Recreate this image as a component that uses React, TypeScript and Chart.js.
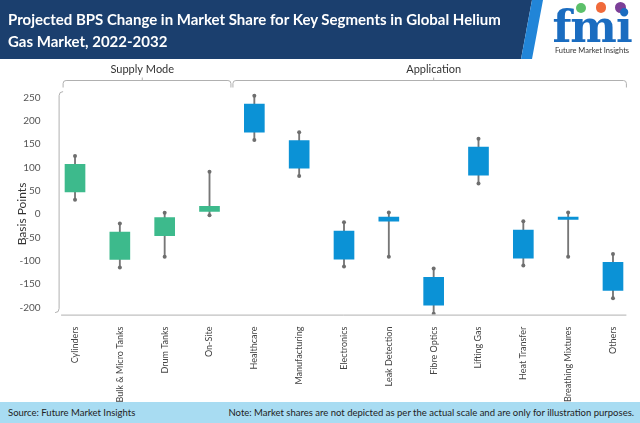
import React, { useEffect, useRef } from "react";
import { Chart, registerables } from "chart.js";

Chart.register(...registerables);

const categories = [
  "Cylinders",
  "Bulk & Micro Tanks",
  "Drum Tanks",
  "On-Site",
  "Healthcare",
  "Manufacturing",
  "Electronics",
  "Leak Detection",
  "Fibre Optics",
  "Lifting Gas",
  "Heat Transfer",
  "Breathing Mixtures",
  "Others",
];
const whiskerMax = [125, -20, 3, 91, 254, 176, -17, 4, -116, 162, -15, 4, -85];
const boxHigh = [107, -38, -7, 17, 236, 158, -36, -6, -135, 144, -34, -6, -103];
const boxLow = [48, -97, -46, 6, 176, 99, -96, -15, -195, 84, -94, -11, -163];
const whiskerMin = [31, -114, -91, -2, 159, 82, -112, -91, -213, 66, -110, -91, -180];

const groupNames = ["Supply Mode", "Application"];
const groupStart = [0, 4];
const groupEnd = [3, 12];
const groupColors = ["#3dba8c", "#0b92d6"];

const yTicks = [-200, -150, -100, -50, 0, 50, 100, 150, 200, 250];
const yMin = -215;
const yMax = 265;
const yTitle = "Basis Points";

const FONT = "Lato, 'Open Sans', sans-serif";

const decorPlugin = {
  id: "decor",
  afterDraw(chart: any) {
    const ctx = chart.ctx;
    const xs = chart.scales.x;
    const area = chart.chartArea;
    const band = area.width / categories.length;
    const axisX = area.left + 6.5;
    ctx.save();
    ctx.strokeStyle = "#b0b0b0";
    ctx.lineWidth = 1;
    ctx.beginPath();
    ctx.moveTo(axisX + 4, area.top + 1);
    ctx.quadraticCurveTo(axisX, area.top + 1, axisX, area.top + 5);
    ctx.lineTo(axisX, area.bottom - 6);
    ctx.quadraticCurveTo(axisX, area.bottom - 2, axisX - 4, area.bottom - 2);
    ctx.stroke();
    ctx.beginPath();
    ctx.moveTo(axisX + 2, area.bottom + 0.5);
    ctx.lineTo(area.right - 9, area.bottom + 0.5);
    ctx.stroke();

    const by = 80.5;
    groupNames.forEach((name, g) => {
      let x0 = xs.getPixelForValue(groupStart[g]) - band / 2 + 1;
      let x1 = xs.getPixelForValue(groupEnd[g]) + band / 2 - 1;
      if (g === 0) x0 = Math.max(x0, axisX + 4);
      if (g === groupNames.length - 1) x1 = Math.min(x1, area.right - 9);
      const cx = (xs.getPixelForValue(groupStart[g]) + xs.getPixelForValue(groupEnd[g])) / 2;
      ctx.strokeStyle = "#b0b0b0";
      ctx.beginPath();
      ctx.moveTo(x0, by + 7);
      ctx.lineTo(x0, by + 3);
      ctx.quadraticCurveTo(x0, by, x0 + 3, by);
      ctx.lineTo(x1 - 3, by);
      ctx.quadraticCurveTo(x1, by, x1, by + 3);
      ctx.lineTo(x1, by + 7);
      ctx.moveTo(cx, by);
      ctx.lineTo(cx, by - 3);
      ctx.stroke();
      ctx.fillStyle = "#333";
      ctx.font = "11px " + FONT;
      ctx.textAlign = "center";
      ctx.textBaseline = "middle";
      ctx.fillText(name, cx, 69);
    });

    ctx.save();
    ctx.translate(22, 214);
    ctx.rotate(-Math.PI / 2);
    ctx.fillStyle = "#333";
    ctx.font = "12px " + FONT;
    ctx.textAlign = "center";
    ctx.textBaseline = "middle";
    ctx.fillText(yTitle, 0, 0);
    ctx.restore();
    ctx.restore();
  },
};

function colorFor(i: number) {
  for (let g = 0; g < groupNames.length; g++) {
    if (i >= groupStart[g] && i <= groupEnd[g]) return groupColors[g];
  }
  return groupColors[0];
}

export default function App() {
  const ref = useRef<HTMLCanvasElement>(null);

  useEffect(() => {
    if (!ref.current) return;
    const boxColors = categories.map((_, i) => colorFor(i));
    const chart = new Chart(ref.current, {
      type: "bar",
      data: {
        labels: categories,
        datasets: [
          {
            type: "bar",
            data: categories.map((_, i) => [whiskerMin[i], whiskerMax[i]]),
            backgroundColor: "#777777",
            barThickness: 1.2,
            grouped: false,
            order: 3,
          } as any,
          {
            type: "bar",
            data: categories.map((_, i) => [boxLow[i], boxHigh[i]]),
            backgroundColor: boxColors,
            barThickness: 20,
            grouped: false,
            order: 2,
          } as any,
          {
            type: "line",
            data: whiskerMax,
            showLine: false,
            pointRadius: 2,
            pointBackgroundColor: "#6e6e6e",
            pointBorderWidth: 0,
            order: 1,
          } as any,
          {
            type: "line",
            data: whiskerMin,
            showLine: false,
            pointRadius: 2,
            pointBackgroundColor: "#6e6e6e",
            pointBorderWidth: 0,
            order: 1,
          } as any,
        ],
      },
      options: {
        animation: false,
        responsive: false,
        maintainAspectRatio: false,
        layout: { padding: { top: 90.6, right: 4.6, bottom: 21, left: 0 } },
        plugins: { legend: { display: false }, tooltip: { enabled: false } },
        scales: {
          x: {
            grid: { display: false },
            border: { display: false },
            ticks: {
              autoSkip: false,
              maxRotation: 90,
              minRotation: 90,
              padding: 4,
              color: "#444",
              font: { family: FONT, size: 9 },
            },
            afterFit(scale: any) {
              scale.height = 87.4;
            },
          },
          y: {
            min: yMin,
            max: yMax,
            grid: { display: false },
            border: { display: false },
            ticks: {
              padding: 4,
              color: "#555",
              font: { family: FONT, size: 10 },
            },
            afterBuildTicks(scale: any) {
              scale.ticks = yTicks.map((v) => ({ value: v }));
            },
            afterFit(scale: any) {
              scale.width = 52.6;
            },
          },
        },
      },
      plugins: [decorPlugin],
    });
    return () => chart.destroy();
  }, []);

  return (
    <div style={{ position: "fixed", left: 0, top: 0, width: 640, height: 423, background: "#fff", overflow: "hidden", fontFamily: FONT }}>
      <canvas ref={ref} width={640} height={423} style={{ position: "absolute", left: 0, top: 0, width: 640, height: 423 }} />
      <div style={{ position: "absolute", left: 0, top: 0, width: 640, height: 59, background: "#1b3f6e", clipPath: "polygon(0 0, 532px 0, 521px 59px, 0 59px)" }} />
      <div style={{ position: "absolute", left: 0, top: 0, width: 640, height: 59, background: "#2185d8", clipPath: "polygon(532px 0, 543px 0, 532px 59px, 521px 59px)" }} />
      <div style={{ position: "absolute", left: 8, top: 8, color: "#fff", fontWeight: 700, fontSize: 15, lineHeight: "22px", whiteSpace: "nowrap" }}>
        <div>Projected BPS Change in Market Share for Key Segments in Global Helium</div>
        <div>Gas Market, 2022-2032</div>
      </div>
      <div style={{ position: "absolute", left: 546, top: 0, width: 92, height: 59 }}>
        <div style={{ position: "absolute", left: 30, top: 3, width: 10, height: 10, borderRadius: 5, background: "#5cc06a" }} />
        <div style={{ position: "absolute", left: 50, top: 2, width: 10, height: 11, borderRadius: 5, background: "#f06a3b" }} />
        <div style={{ position: "absolute", left: 69, top: 2, width: 11, height: 11, borderRadius: 6, background: "#7b3f98" }} />
        <div style={{ position: "absolute", left: 0, top: 9, width: 92, textAlign: "center", fontFamily: "'DejaVu Serif', serif", fontWeight: 700, fontSize: 44, lineHeight: "36px", color: "#1a6cc0", letterSpacing: -1 }}>fmi</div>
        <div style={{ position: "absolute", left: 0, top: 46, width: 92, textAlign: "center", fontSize: 7.5, color: "#333", whiteSpace: "nowrap" }}>Future Market Insights</div>
      </div>
      <div style={{ position: "absolute", left: 0, top: 402, width: 640, height: 21, background: "#a8dcf2", fontSize: 9.5, color: "#222" }}>
        <div style={{ position: "absolute", left: 8, top: 5, whiteSpace: "nowrap" }}>Source: Future Market Insights</div>
        <div style={{ position: "absolute", right: 6, top: 5, whiteSpace: "nowrap" }}>Note: Market shares are not depicted as per the actual scale and are only for illustration purposes.</div>
      </div>
    </div>
  );
}
